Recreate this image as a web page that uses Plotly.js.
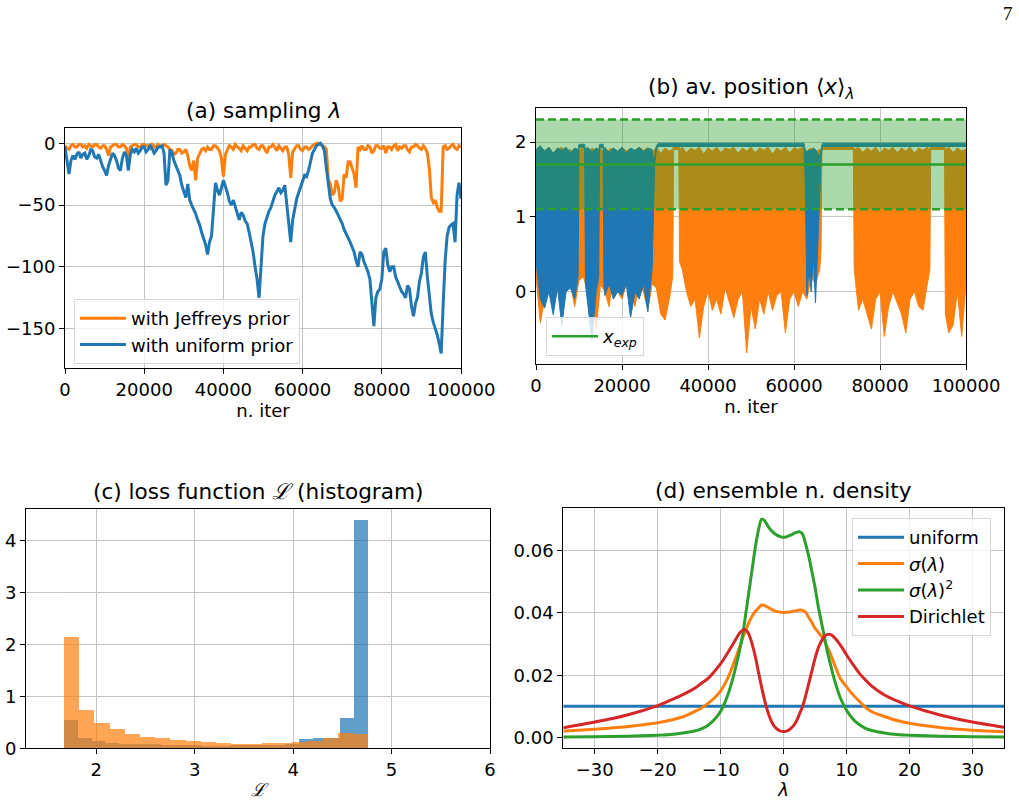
<!DOCTYPE html>
<html><head><meta charset="utf-8">
<script src="https://cdn.plot.ly/plotly-3.0.1.min.js"></script>
<style>html,body{margin:0;padding:0;background:#fff}#chart{width:1019px;height:800px}</style>
</head><body><div id="chart"></div>
<script>
// ---------- (a) sampling lambda ----------
const iterA = [0,500,1000,1500,2000,2500,3000,3500,4000,4500,5000,5500,6000,6500,7000,7500,8000,8500,9000,9500,
10000,10500,11000,11500,12000,12500,13000,13500,14000,14500,15000,15500,16000,16500,17000,17500,18000,18500,19000,19500,
20000,20500,21000,21500,22000,22500,23000,23500,24000,24500,25000,25500,26000,26500,27000,27500,28000,28500,29000,29500,
30000,30500,31000,31500,32000,32500,33000,33500,34000,34500,35000,35500,36000,36500,37000,37500,38000,38500,39000,39500,
40000,40500,41000,41500,42000,42500,43000,43500,44000,44500,45000,45500,46000,46500,47000,47500,48000,48500,49000,49500,
50000,50500,51000,51500,52000,52500,53000,53500,54000,54500,55000,55500,56000,56500,57000,57500,58000,58500,59000,59500,
60000,60500,61000,61500,62000,62500,63000,63500,64000,64500,65000,65500,66000,66500,67000,67500,68000,68500,69000,69500,
70000,70500,71000,71500,72000,72500,73000,73500,74000,74500,75000,75500,76000,76500,77000,77500,78000,78500,79000,79500,
80000,80500,81000,81500,82000,82500,83000,83500,84000,84500,85000,85500,86000,86500,87000,87500,88000,88500,89000,89500,
90000,90500,91000,91500,92000,92500,93000,93500,94000,94500,95000,95500,96000,96500,97000,97500,98000,98500,99000,99500,100000];
const lamUniform = [-3,-15,-25,-14,-10,-13,-9,-7,-12,-9,-8,-13,-10,-5,-6,-11,-12,-9,-15,-19,
-22,-26,-18,-12,-8,-10,-14,-20,-22,-12,-7,-10,-22,-9,-5,-7,-4,-8,-6,-3,
-3,-7,-5,-2,-4,-8,-6,-3,-3,-2,-8,-34,-30,-5,-8,-14,-18,-22,-26,-34,
-40,-44,-33,-46,-50,-53,-57,-62,-66,-72,-77,-82,-90,-80,-75,-55,-32,-38,-42,-36,
-30,-35,-40,-47,-50,-46,-52,-58,-62,-56,-58,-63,-65,-72,-80,-88,-100,-110,-125,-95,
-75,-65,-60,-55,-52,-46,-42,-39,-36,-40,-38,-34,-50,-70,-80,-62,-52,-45,-40,-35,
-30,-26,-27,-22,-15,-8,-5,-2,-1,0,-2,-6,-20,-35,-45,-50,-52,-55,-58,-62,
-65,-70,-73,-76,-80,-84,-88,-95,-100,-88,-90,-96,-100,-104,-110,-130,-148,-125,-120,-118,
-110,-88,-85,-98,-104,-100,-100,-108,-112,-115,-120,-122,-125,-115,-118,-132,-140,-130,-125,-112,
-105,-92,-88,-108,-125,-138,-145,-150,-155,-162,-170,-130,-95,-75,-68,-66,-65,-80,-42,-32,-45];
const lamJeffreys = [-2,-4,-5,-2,-1,-3,-3,-1,-1,-3,-2,-4,-1,-2,-3,-1,-1,-3,-4,-2,
-2,-5,-10,-3,-2,-1,-1,-3,-3,-1,-2,-4,-14,-3,-2,-1,-1,-3,-3,-1,
-1,-2,-2,-4,-1,-2,-4,-1,-2,-3,-1,-2,-3,-5,-6,-9,-8,-5,-5,-8,
-7,-5,-10,-18,-22,-14,-30,-12,-8,-5,-4,-6,-3,-5,-5,-2,-2,-4,-6,-12,
-27,-9,-5,-2,-3,-5,-1,-3,-4,-6,-2,-4,-6,-3,-3,-1,-1,-4,-5,-2,
-2,-5,-8,-3,-3,-1,-4,-6,-2,-4,-6,-3,-3,-9,-28,-7,-4,-2,-2,-5,
-6,-3,-3,-5,-4,-2,-1,0,0,-1,-2,-3,-5,-30,-33,-42,-40,-30,-35,-47,
-45,-25,-28,-15,-15,-20,-25,-36,-3,-5,-2,-5,-5,-2,-3,-8,-6,-2,-2,-4,
-4,-2,-8,-3,-3,-5,-2,-1,-6,-3,-4,-2,-2,-5,-7,-3,-3,-1,-2,-4,
-5,-2,-4,-8,-20,-44,-48,-46,-52,-55,-55,-3,-2,-5,-4,-2,-1,-4,-5,-2,-3];

// ---------- (b) average position ----------
const iterOrangeB = [0,1000,2000,3000,4000,5000,6000,7000,8000,9000,10000,11000,12000,13000,14000,15000,16000,17000,18000,19000,20000,21000,22000,23000,24000,25000,26000,27000,28000,29000,30000,31000,31800,32000,33200,33400,34000,35000,36000,37000,38000,39000,40000,41000,42000,43000,44000,45000,46000,47000,48000,49000,50000,51000,52000,53000,54000,55000,56000,57000,58000,59000,60000,61000,62000,63000,64000,65000,66000,66300,66500,73800,74000,75000,76000,77000,78000,79000,80000,81000,82000,83000,84000,85000,86000,87000,88000,89000,90000,91000,91600,91800,95000,95200,96000,97000,98000,99000,100000];
const xHighJeffreys = [1.85,1.92,1.88,1.93,1.85,1.9,1.93,1.87,1.9,1.82,1.9,1.93,1.86,1.92,1.88,1.93,1.8,1.9,1.92,1.85,1.93,1.88,1.91,1.86,1.93,1.89,1.92,1.87,1.93,1.85,1.92,1.88,1.9,1.95,1.95,1.9,1.93,1.86,1.92,1.89,1.93,1.84,1.92,1.88,1.93,1.86,1.92,1.9,1.93,1.85,1.92,1.88,1.93,1.86,1.92,1.89,1.93,1.84,1.92,1.88,1.93,1.86,1.92,1.9,1.93,1.88,1.92,1.87,1.9,1.9,1.95,1.95,1.9,1.93,1.86,1.92,1.88,1.93,1.85,1.92,1.89,1.93,1.86,1.92,1.88,1.93,1.85,1.92,1.89,1.93,1.9,1.95,1.95,1.9,1.93,1.86,1.92,1.88,1.9];
const xLowJeffreys = [0.2,-0.42,-0.1,0.0,-0.2,0.1,-0.15,0.0,0.1,-0.2,0.15,0.2,0.0,-0.1,-0.5,0.1,0.0,-0.2,0.2,0.0,-0.1,0.1,0.0,-0.2,0.1,0.0,-0.25,0.1,0.05,-0.3,-0.38,-0.1,0.2,1.9,1.9,0.4,0.3,0.0,-0.2,-0.1,-0.62,-0.2,0.0,-0.25,-0.1,-0.3,0.05,-0.15,-0.35,-0.1,0.0,-0.82,-0.2,-0.5,-0.1,-0.3,0.0,-0.25,-0.05,0.0,-0.55,-0.1,0.0,-0.2,0.0,-0.1,0.2,0.1,0.3,0.6,1.9,1.9,0.3,-0.25,-0.1,-0.3,-0.5,-0.1,0.0,-0.6,-0.2,0.0,-0.15,-0.3,-0.55,-0.1,0.0,-0.2,-0.25,0.1,0.3,1.9,1.9,-0.3,-0.55,-0.45,0.0,-0.6,0.1];
const iterBlueB = [0,1000,2000,3000,4000,5000,6000,7000,8000,9000,9800,10000,11300,11500,12000,13000,14000,14600,14800,15600,15800,16000,17000,18000,19000,20000,21000,22000,23000,24000,25000,26000,27000,27300,27600,28000,28500,62300,62600,63000,63500,64000,64500,65000,65500,66000,66300,66600,100000];
const xHighUniform = [1.9,1.95,1.88,1.93,1.85,1.92,1.89,1.93,1.86,1.92,1.9,1.97,1.97,1.9,1.93,1.87,1.92,1.9,1.97,1.97,1.88,1.93,1.86,1.92,1.88,1.93,1.85,1.92,1.89,1.93,1.87,1.92,1.9,1.75,1.8,1.95,1.985,1.985,1.9,1.85,1.9,1.88,1.92,1.9,1.85,1.8,1.9,1.985,1.985];
const xLowUniform = [0.4,-0.1,-0.22,0.0,-0.31,0.05,-0.45,0.0,0.05,-0.1,0.2,1.93,1.93,0.1,-0.1,-0.65,0.0,0.2,1.93,1.93,0.1,-0.05,0.1,-0.1,0.0,-0.05,0.1,-0.35,0.0,-0.1,0.1,-0.27,0.3,1.1,1.7,1.9,1.94,1.94,1.5,-0.05,0.3,0.0,0.5,-0.15,0.6,1.3,1.8,1.94,1.94];
const xExp = 1.7;
const xExpErr = 0.6;

// ---------- (c) loss histogram ----------
const lossMin = 1.672, lossMax = 4.762;
const densUniform = [0.545,0.2,0.147,0.10,0.083,0.083,0.077,0.064,0.058,0.058,0.05,0.05,0.064,0.058,0.058,0.064,0.077,0.18,0.2,0.19,0.58,4.39];
const densJeffreys = [2.14,0.737,0.487,0.372,0.276,0.218,0.2,0.16,0.141,0.122,0.10,0.083,0.077,0.10,0.10,0.122,0.135,0.19,0.295,0.276];

// ---------- (d) ensemble density ----------
const lamGrid = [-35,-30,-25,-20,-18,-16,-14,-13,-12,-11,-10,-9,-8,-7,-6.5,-6,-5.5,-5,-4.5,-4,-3.5,-3,-2.5,-2,-1.5,-1,-0.5,0,0.5,1,1.5,2,2.5,3,3.5,4,4.5,5,5.5,6,6.5,7,7.5,8,9,10,11,12,13,14,16,18,20,25,30,35];
const rhoUniform = 0.0101;
const rhoSigma = [0.0021,0.0027,0.0035,0.0048,0.0056,0.0067,0.0085,0.0096,0.011,0.0127,0.015,0.0185,0.0235,0.029,0.032,0.0345,0.037,0.039,0.0405,0.0415,0.0425,0.0423,0.0418,0.0412,0.0407,0.0404,0.0402,0.0401,0.0402,0.0403,0.0405,0.0407,0.0409,0.0408,0.0402,0.0385,0.0368,0.035,0.0338,0.0325,0.031,0.0287,0.0265,0.0238,0.019,0.0163,0.0138,0.0117,0.0097,0.0083,0.0068,0.0055,0.0046,0.0032,0.0024,0.0019];
const rhoSigma2 = [0.0002,0.0003,0.0005,0.0008,0.001,0.0015,0.0022,0.0029,0.004,0.0058,0.0085,0.013,0.0195,0.028,0.033,0.040,0.047,0.054,0.061,0.0665,0.070,0.0695,0.0678,0.0665,0.0655,0.0648,0.0644,0.0642,0.0644,0.0648,0.0653,0.0658,0.066,0.0652,0.062,0.058,0.053,0.048,0.042,0.037,0.032,0.027,0.023,0.019,0.0128,0.0088,0.006,0.0042,0.003,0.0023,0.0015,0.001,0.0008,0.0005,0.0003,0.0002];
const rhoDirichlet = [0.0032,0.005,0.0072,0.0103,0.012,0.0138,0.016,0.0175,0.019,0.0212,0.0237,0.0268,0.0302,0.0335,0.0345,0.0345,0.033,0.030,0.026,0.021,0.0162,0.0118,0.0082,0.0055,0.0037,0.0027,0.0021,0.002,0.0021,0.0027,0.0037,0.0052,0.0075,0.010,0.0135,0.0175,0.0215,0.0255,0.0288,0.031,0.0325,0.0331,0.033,0.0322,0.0297,0.0265,0.0235,0.0207,0.0185,0.0165,0.0137,0.0118,0.0102,0.0072,0.005,0.0033];

// ---------- build ----------
const C0 = '#1f77b4', C1 = '#ff7f0e', C2 = '#2ca02c', C3 = '#d62728';
const FONT = 'DejaVu Sans, Verdana, sans-serif';
const SCRIPT_L = '<span style="font-family:DejaVu Serif;font-style:italic">ℒ</span>';

function envelope(xs, hi, lo) {
  return { x: xs.concat(xs.slice().reverse()), y: hi.concat(lo.slice().reverse()) };
}
function binCenters(n, vmin, vmax) {
  const w = (vmax - vmin) / n, c = [];
  for (let i = 0; i < n; i++) c.push(vmin + (i + 0.5) * w);
  return { c: c, w: w };
}

const traces = [];
// (a)
traces.push({x: iterA, y: lamJeffreys, type: 'scatter', mode: 'lines', name: 'with Jeffreys prior',
  line: {color: C1, width: 3}, xaxis: 'x', yaxis: 'y', legend: 'legend'});
traces.push({x: iterA, y: lamUniform, type: 'scatter', mode: 'lines', name: 'with uniform prior',
  line: {color: C0, width: 3}, xaxis: 'x', yaxis: 'y', legend: 'legend'});

// (b)
const eo = envelope(iterOrangeB, xHighJeffreys, xLowJeffreys);
traces.push({x: eo.x, y: eo.y, type: 'scatter', mode: 'lines', fill: 'toself', fillcolor: C1,
  line: {color: C1, width: 1}, showlegend: false, xaxis: 'x2', yaxis: 'y2', hoverinfo: 'skip'});
const eb = envelope(iterBlueB, xHighUniform, xLowUniform);
traces.push({x: eb.x, y: eb.y, type: 'scatter', mode: 'lines', fill: 'toself', fillcolor: C0,
  line: {color: C0, width: 1}, showlegend: false, xaxis: 'x2', yaxis: 'y2', hoverinfo: 'skip'});
const xb0 = 0, xb1 = 100000;
traces.push({x: [xb0, xb1, xb1, xb0], y: [xExp + xExpErr, xExp + xExpErr, xExp - xExpErr, xExp - xExpErr],
  type: 'scatter', mode: 'lines', fill: 'toself', fillcolor: 'rgba(44,160,44,0.4)', line: {width: 0},
  showlegend: false, xaxis: 'x2', yaxis: 'y2', hoverinfo: 'skip'});
traces.push({x: [xb0, xb1], y: [xExp + xExpErr, xExp + xExpErr], type: 'scatter', mode: 'lines',
  line: {color: C2, width: 2.5, dash: '8px,4px'}, showlegend: false, xaxis: 'x2', yaxis: 'y2'});
traces.push({x: [xb0, xb1], y: [xExp - xExpErr, xExp - xExpErr], type: 'scatter', mode: 'lines',
  line: {color: C2, width: 2.5, dash: '8px,4px'}, showlegend: false, xaxis: 'x2', yaxis: 'y2'});
traces.push({x: [xb0, xb1], y: [xExp, xExp], type: 'scatter', mode: 'lines', name: '<i>x</i><sub><i>exp</i></sub>',
  line: {color: C2, width: 2.5}, xaxis: 'x2', yaxis: 'y2', legend: 'legend2'});

// (c)
const bu = binCenters(densUniform.length, lossMin, lossMax);
const bj = binCenters(densJeffreys.length, lossMin, lossMax);
traces.push({x: bu.c, y: densUniform, width: bu.w, type: 'bar', marker: {color: C0, line: {width: 0}},
  opacity: 0.7, showlegend: false, xaxis: 'x3', yaxis: 'y3'});
traces.push({x: bj.c, y: densJeffreys, width: bj.w, type: 'bar', marker: {color: C1, line: {width: 0}},
  opacity: 0.7, showlegend: false, xaxis: 'x3', yaxis: 'y3'});

// (d)
traces.push({x: [lamGrid[0], lamGrid[lamGrid.length - 1]], y: [rhoUniform, rhoUniform], type: 'scatter', mode: 'lines',
  name: 'uniform', line: {color: C0, width: 3}, xaxis: 'x4', yaxis: 'y4', legend: 'legend3'});
traces.push({x: lamGrid, y: rhoSigma, type: 'scatter', mode: 'lines', name: '<i>σ</i>(<i>λ</i>)',
  line: {color: C1, width: 3, shape: 'spline', smoothing: 0.8}, xaxis: 'x4', yaxis: 'y4', legend: 'legend3'});
traces.push({x: lamGrid, y: rhoSigma2, type: 'scatter', mode: 'lines', name: '<i>σ</i>(<i>λ</i>)<sup>2</sup>',
  line: {color: C2, width: 3, shape: 'spline', smoothing: 0.8}, xaxis: 'x4', yaxis: 'y4', legend: 'legend3'});
traces.push({x: lamGrid, y: rhoDirichlet, type: 'scatter', mode: 'lines', name: 'Dirichlet',
  line: {color: C3, width: 3, shape: 'spline', smoothing: 0.8}, xaxis: 'x4', yaxis: 'y4', legend: 'legend3'});

const W = 1019, H = 800;
function ax(extra) {
  return Object.assign({
    showline: true, mirror: true, linecolor: '#000', linewidth: 1,
    ticks: 'outside', ticklen: 5, tickwidth: 1, tickcolor: '#000',
    showgrid: true, gridcolor: '#c4c4c4', gridwidth: 1, zeroline: false,
    tickfont: {family: FONT, size: 18, color: '#000'},
    exponentformat: 'none', separatethousands: false, fixedrange: true
  }, extra);
}
const axTitleFont = {family: FONT, size: 18, color: '#000'};
const legStyle = {bgcolor: 'rgba(255,255,255,0.8)', bordercolor: '#d6d6d6', borderwidth: 1,
  font: {family: FONT, size: 18, color: '#000'}, xanchor: 'left', yanchor: 'top', tracegroupgap: 0, itemwidth: 46};

function titleAnn(text, x0, x1, ytop) {
  return {text: text, xref: 'paper', yref: 'paper', x: (x0 + x1) / 2 / W, y: 1 - ytop / H,
    xanchor: 'center', yanchor: 'bottom', showarrow: false, yshift: 3,
    font: {family: FONT, size: 21.6, color: '#000'}};
}

const layout = {
  width: W, height: H, margin: {l: 0, r: 0, t: 0, b: 0},
  paper_bgcolor: '#fff', plot_bgcolor: '#fff', barmode: 'overlay', bargap: 0,
  font: {family: FONT, color: '#000'},
  xaxis: ax({domain: [65 / W, 461 / W], anchor: 'y', range: [0, 100000], tickvals: [0, 20000, 40000, 60000, 80000, 100000], tickformat: 'd',
    title: {text: 'n. iter', font: axTitleFont, standoff: 4}}),
  yaxis: ax({domain: [1 - 368.3 / H, 1 - 128.3 / H], anchor: 'x', range: [-182.1, 12.1], tickvals: [0, -50, -100, -150]}),
  xaxis2: ax({domain: [536 / W, 966 / W], anchor: 'y2', range: [0, 100000], tickvals: [0, 20000, 40000, 60000, 80000, 100000], tickformat: 'd',
    title: {text: 'n. iter', font: axTitleFont, standoff: 4}}),
  yaxis2: ax({domain: [1 - 364 / H, 1 - 107.7 / H], anchor: 'x2', range: [-0.967, 2.459], tickvals: [0, 1, 2]}),
  xaxis3: ax({domain: [26 / W, 490 / W], anchor: 'y3', range: [1.286, 6.0], tickvals: [2, 3, 4, 5, 6],
    title: {text: SCRIPT_L, font: axTitleFont, standoff: 4}}),
  yaxis3: ax({domain: [1 - 748.3 / H, 1 - 508.7 / H], anchor: 'x3', range: [0, 4.61], tickvals: [0, 1, 2, 3, 4]}),
  xaxis4: ax({domain: [563.3 / W, 1004 / W], anchor: 'y4', range: [-35, 35], tickvals: [-30, -20, -10, 0, 10, 20, 30],
    title: {text: '<i>λ</i>', font: axTitleFont, standoff: 4}}),
  yaxis4: ax({domain: [1 - 748.3 / H, 1 - 508.3 / H], anchor: 'x4', range: [-0.0034, 0.0735], tickvals: [0, 0.02, 0.04, 0.06], tickformat: '.2f'}),
  legend: Object.assign({x: 74 / W, y: 1 - 299 / H}, legStyle),
  legend2: Object.assign({x: 546 / W, y: 1 - 317 / H}, legStyle),
  legend3: Object.assign({x: 852 / W, y: 1 - 518 / H}, legStyle),
  annotations: [
    titleAnn('(a) sampling <i>λ</i>', 65, 461, 128.3),
    titleAnn('(b) av. position ⟨<i>x</i>⟩<sub><i>λ</i></sub>', 536, 966, 107.7),
    titleAnn('(c) loss function ' + SCRIPT_L + ' (histogram)', 26, 490, 508.7),
    titleAnn('(d) ensemble n. density', 563.3, 1004, 508.3),
    {text: '7', xref: 'paper', yref: 'paper', x: 1008 / W, y: 1 - 14 / H, xanchor: 'center', yanchor: 'middle',
      showarrow: false, font: {family: 'Liberation Serif, DejaVu Serif, serif', size: 19, color: '#000'}}
  ],
  showlegend: true
};

Plotly.newPlot('chart', traces, layout, {displayModeBar: false, staticPlot: true});
</script></body></html>
